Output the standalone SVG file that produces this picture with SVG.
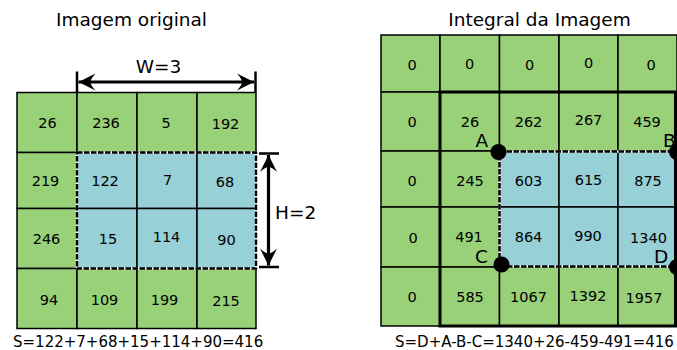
<svg xmlns="http://www.w3.org/2000/svg" width="677" height="350" viewBox="0 0 677 350">
  <style>
    text { font-family: "DejaVu Sans", "Liberation Sans", sans-serif; fill: #000; }
    .g { fill: #99d179; stroke: #000; stroke-width: 1.5; }
    .b { fill: #97d0d6; stroke: #000; stroke-width: 1.5; }
    .t { font-size: 14.5px; text-anchor: middle; }
    .h { font-size: 18.5px; text-anchor: middle; }
    .lbl { font-size: 18.5px; }
    .s { font-size: 15px; }
    .dash-under { fill: none; stroke: #fff; stroke-width: 2.4; }
    .dash { fill: none; stroke: #000; stroke-width: 2.4; stroke-dasharray: 5.5 1.5; }
    .dim { fill: none; stroke: #000; stroke-width: 3.2; }
    .tick { fill: none; stroke: #000; stroke-width: 2.5; }
    .frame { fill: none; stroke: #000; stroke-width: 3; }
  </style>
  <defs>
    <marker id="head" markerUnits="userSpaceOnUse" markerWidth="20" markerHeight="20" viewBox="-18 -10 20 20" refX="0" refY="0" orient="auto-start-reverse">
      <path d="M0,0 L-17,-8.5 Q-12,-3 -12,0 Q-12,3 -17,8.5 Z" fill="#000"/>
    </marker>
  </defs>

  <!-- headings -->
  <text class="h" x="131.5" y="25.5">Imagem original</text>
  <text class="h" x="539.5" y="25.5">Integral da Imagem</text>

  <!-- source image cells -->
  <g id="src-r0c0"><rect class="g" x="17" y="92.5" width="60" height="60"/><text class="t" x="47.5" y="128">26</text></g>
  <g id="src-r0c1"><rect class="g" x="77" y="92.5" width="60" height="60"/><text class="t" x="106" y="128">236</text></g>
  <g id="src-r0c2"><rect class="g" x="137" y="92.5" width="60" height="60"/><text class="t" x="166" y="128">5</text></g>
  <g id="src-r0c3"><rect class="g" x="197" y="92.5" width="59" height="60"/><text class="t" x="225.5" y="128.5">192</text></g>

  <g id="src-r1c0"><rect class="g" x="17" y="152.5" width="60" height="56"/><text class="t" x="45.5" y="186">219</text></g>
  <g id="src-r1c1"><rect class="b" x="77" y="152.5" width="60" height="56"/><text class="t" x="105" y="186">122</text></g>
  <g id="src-r1c2"><rect class="b" x="137" y="152.5" width="60" height="56"/><text class="t" x="167.5" y="184.5">7</text></g>
  <g id="src-r1c3"><rect class="b" x="197" y="152.5" width="59" height="56"/><text class="t" x="225" y="187">68</text></g>

  <g id="src-r2c0"><rect class="g" x="17" y="208.5" width="60" height="60"/><text class="t" x="46.5" y="243.5">246</text></g>
  <g id="src-r2c1"><rect class="b" x="77" y="208.5" width="60" height="60"/><text class="t" x="108" y="243.5">15</text></g>
  <g id="src-r2c2"><rect class="b" x="137" y="208.5" width="60" height="60"/><text class="t" x="166.5" y="242">114</text></g>
  <g id="src-r2c3"><rect class="b" x="197" y="208.5" width="59" height="60"/><text class="t" x="226.5" y="244.5">90</text></g>

  <g id="src-r3c0"><rect class="g" x="17" y="268.5" width="60" height="60"/><text class="t" x="49" y="305">94</text></g>
  <g id="src-r3c1"><rect class="g" x="77" y="268.5" width="60" height="60"/><text class="t" x="104.5" y="305">109</text></g>
  <g id="src-r3c2"><rect class="g" x="137" y="268.5" width="60" height="60"/><text class="t" x="164.5" y="304.5">199</text></g>
  <g id="src-r3c3"><rect class="g" x="197" y="268.5" width="59" height="60"/><text class="t" x="226" y="306">215</text></g>

  <!-- selected window in the source image -->
  <g id="src-window">
    <rect class="dash-under" x="77" y="152.5" width="179" height="116"/>
    <rect class="dash" x="77" y="152.5" width="179" height="116"/>
  </g>

  <!-- width / height dimension lines -->
  <g id="dim-w">
    <line class="tick" x1="77" y1="71.5" x2="77" y2="92"/>
    <line class="tick" x1="255.5" y1="71.5" x2="255.5" y2="92"/>
    <line class="dim" x1="78.5" y1="82" x2="254" y2="82" marker-start="url(#head)" marker-end="url(#head)"/>
    <text class="h" x="158.5" y="73">W=3</text>
  </g>
  <g id="dim-h">
    <line class="tick" x1="259" y1="153.5" x2="279" y2="153.5"/>
    <line class="tick" x1="259" y1="267" x2="279" y2="267"/>
    <line class="dim" x1="268.5" y1="155" x2="268.5" y2="265.5" marker-start="url(#head)" marker-end="url(#head)"/>
    <text class="lbl" x="275" y="218.5">H=2</text>
  </g>

  <text class="s" x="13" y="346.5">S=122+7+68+15+114+90=416</text>

  <!-- integral image cells -->
  <g id="ii-r0c0"><rect class="g" x="381" y="35" width="59" height="57"/><text class="t" x="412" y="70">0</text></g>
  <g id="ii-r0c1"><rect class="g" x="440" y="35" width="59.5" height="57"/><text class="t" x="469.5" y="68.5">0</text></g>
  <g id="ii-r0c2"><rect class="g" x="499.5" y="35" width="59.5" height="57"/><text class="t" x="529.5" y="70">0</text></g>
  <g id="ii-r0c3"><rect class="g" x="559" y="35" width="59" height="57"/><text class="t" x="588.5" y="67.5">0</text></g>
  <g id="ii-r0c4"><rect class="g" x="618" y="35" width="59" height="57"/><text class="t" x="651" y="70">0</text></g>

  <g id="ii-r1c0"><rect class="g" x="381" y="92" width="59" height="59"/><text class="t" x="412" y="127">0</text></g>
  <g id="ii-r1c1"><rect class="g" x="440" y="92" width="59.5" height="59"/><text class="t" x="470" y="127">26</text></g>
  <g id="ii-r1c2"><rect class="g" x="499.5" y="92" width="59.5" height="59"/><text class="t" x="528.5" y="127">262</text></g>
  <g id="ii-r1c3"><rect class="g" x="559" y="92" width="59" height="59"/><text class="t" x="588.5" y="125">267</text></g>
  <g id="ii-r1c4"><rect class="g" x="618" y="92" width="59" height="59"/><text class="t" x="647" y="127">459</text></g>

  <g id="ii-r2c0"><rect class="g" x="381" y="151" width="59" height="56"/><text class="t" x="412" y="185.5">0</text></g>
  <g id="ii-r2c1"><rect class="g" x="440" y="151" width="59.5" height="56"/><text class="t" x="470" y="185.5">245</text></g>
  <g id="ii-r2c2"><rect class="b" x="499.5" y="151" width="59.5" height="56"/><text class="t" x="528.5" y="185.5">603</text></g>
  <g id="ii-r2c3"><rect class="b" x="559" y="151" width="59" height="56"/><text class="t" x="588.5" y="185">615</text></g>
  <g id="ii-r2c4"><rect class="b" x="618" y="151" width="59" height="56"/><text class="t" x="648" y="186">875</text></g>

  <g id="ii-r3c0"><rect class="g" x="381" y="207" width="59" height="60"/><text class="t" x="413" y="243">0</text></g>
  <g id="ii-r3c1"><rect class="g" x="440" y="207" width="59.5" height="60"/><text class="t" x="469" y="242">491</text></g>
  <g id="ii-r3c2"><rect class="b" x="499.5" y="207" width="59.5" height="60"/><text class="t" x="528.5" y="242">864</text></g>
  <g id="ii-r3c3"><rect class="b" x="559" y="207" width="59" height="60"/><text class="t" x="588" y="241">990</text></g>
  <g id="ii-r3c4"><rect class="b" x="618" y="207" width="59" height="60"/><text class="t" x="648.5" y="243">1340</text></g>

  <g id="ii-r4c0"><rect class="g" x="381" y="267" width="59" height="59"/><text class="t" x="412" y="302">0</text></g>
  <g id="ii-r4c1"><rect class="g" x="440" y="267" width="59.5" height="59"/><text class="t" x="470" y="301.5">585</text></g>
  <g id="ii-r4c2"><rect class="g" x="499.5" y="267" width="59.5" height="59"/><text class="t" x="528.5" y="301.5">1067</text></g>
  <g id="ii-r4c3"><rect class="g" x="559" y="267" width="59" height="59"/><text class="t" x="588" y="300.5">1392</text></g>
  <g id="ii-r4c4"><rect class="g" x="618" y="267" width="59" height="59"/><text class="t" x="644" y="303">1957</text></g>

  <!-- frame of the non-padded part and the window in the integral image -->
  <g id="ii-frame">
    <rect class="frame" x="440" y="92" width="235.5" height="234"/>
  </g>
  <g id="ii-window">
    <rect class="dash-under" x="499.5" y="151.5" width="180" height="115"/>
    <rect class="dash" x="499.5" y="151.5" width="180" height="115"/>
  </g>

  <!-- corner points -->
  <g id="pt-A"><circle cx="498.5" cy="152" r="8"/><text class="lbl" x="475.5" y="146.5">A</text></g>
  <g id="pt-B"><circle cx="677" cy="152" r="8"/><text class="lbl" x="663" y="146.5">B</text></g>
  <g id="pt-C"><circle cx="501.5" cy="264.5" r="8"/><text class="lbl" x="475" y="263">C</text></g>
  <g id="pt-D"><circle cx="677" cy="267" r="8"/><text class="lbl" x="654" y="262.5">D</text></g>

  <text class="s" x="395" y="347">S=D+A-B-C=1340+26-459-491=416</text>
</svg>
